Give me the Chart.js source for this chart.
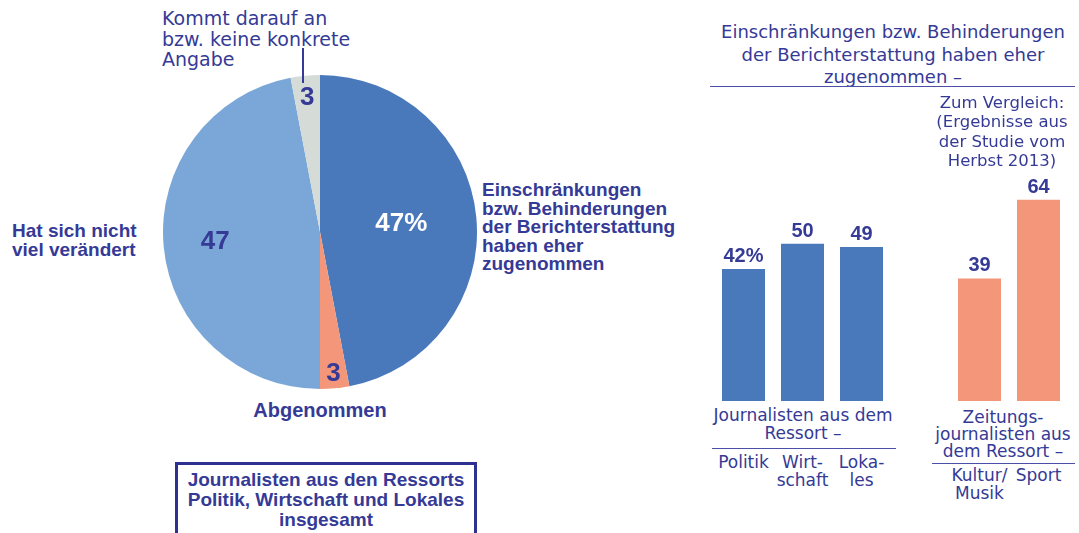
<!DOCTYPE html>
<html>
<head>
<meta charset="utf-8">
<script src="https://cdn.jsdelivr.net/npm/chart.js@4"></script>
<style>
  body { margin: 0; background: #fff; }
  #wrap { position: relative; width: 1079px; height: 533px; overflow: hidden; color: #353a96; }
  .t { position: absolute; font-family: "DejaVu Sans", sans-serif; white-space: nowrap; }
  .b { position: absolute; font-family: "Liberation Sans", Arial, sans-serif; font-weight: bold; white-space: nowrap; }
  .c { text-align: center; }
  .hr { position: absolute; height: 1.5px; background: #4b4fa8; }
  canvas { position: absolute; }
</style>
</head>
<body>
<div id="wrap">
  <canvas id="pie" width="314" height="314" style="left:163px;top:75px"></canvas>
  <canvas id="bars" width="354" height="251" style="left:714px;top:150px"></canvas>

  <div class="t" style="left:162px;top:8px;font-size:19px;line-height:20.5px">Kommt darauf an<br>bzw. keine konkrete<br>Angabe</div>
  <div style="position:absolute;left:302px;top:48px;width:1.5px;height:35px;background:#353a96"></div>

  <div class="b" style="left:12px;top:221px;font-size:19px;line-height:19px">Hat sich nicht<br>viel verändert</div>
  <div class="b" style="left:482px;top:181px;font-size:19px;line-height:18.6px">Einschränkungen<br>bzw. Behinderungen<br>der Berichterstattung<br>haben eher<br>zugenommen</div>
  <div class="b c" style="left:220px;width:200px;top:400px;font-size:20px;line-height:20px">Abgenommen</div>

  <div style="position:absolute;left:175px;top:462px;width:296px;height:100px;border:3px solid #2e3192"></div>
  <div class="b c" style="left:176px;width:300px;top:470px;font-size:19px;line-height:20px">Journalisten aus den Ressorts<br>Politik, Wirtschaft und Lokales<br>insgesamt</div>

  <div class="t c" style="left:693px;width:400px;top:21px;font-size:18px;line-height:22.5px">Einschränkungen bzw. Behinderungen<br>der Berichterstattung haben eher<br>zugenommen –</div>
  <div class="hr" style="left:710px;width:365px;top:85.5px"></div>
  <div class="t c" style="left:902px;width:200px;top:93px;font-size:16.5px;line-height:19.3px">Zum Vergleich:<br>(Ergebnisse aus<br>der Studie vom<br>Herbst 2013)</div>

  <div class="t c" style="left:703px;width:200px;top:406px;font-size:17px;line-height:18.4px">Journalisten aus dem<br>Ressort –</div>
  <div class="hr" style="left:712px;width:184px;top:447.5px"></div>
  <div class="t c" style="left:903px;width:200px;top:409px;font-size:17px;line-height:17px">Zeitungs-<br>journalisten aus<br>dem Ressort –</div>
  <div class="hr" style="left:932px;width:143px;top:462.5px"></div>
</div>

<script>
const navy = '#353a96';

const pieLabels = ['Einschränkungen bzw. Behinderungen der Berichterstattung haben eher zugenommen', 'Abgenommen', 'Hat sich nicht viel verändert', 'Kommt darauf an bzw. keine konkrete Angabe'];
const pieValues = [47, 3, 47, 3];
const pieValueTexts = ['47%', '3', '47', '3'];
const pieColors = ['#4a79bb', '#f4967a', '#7ba7d8', '#d5dcd8'];

const barCategories = ['Politik', 'Wirtschaft', 'Lokales', '', 'Kultur/Musik', 'Sport'];
const barTickLines = [['Politik'], ['Wirt-', 'schaft'], ['Loka-', 'les'], [], ['Kultur/', 'Musik'], ['Sport']];
const barValues = [42, 50, 49, null, 39, 64];
const barValueTexts = ['42%', '50', '49', '', '39', '64'];
const barColors = ['#4a79bb', '#4a79bb', '#4a79bb', '#4a79bb', '#f4967a', '#f4967a'];

// label distance from centre, as part of the radius
const pieLabelRadius = [0.52, 0.91, 0.67, 0.86];

const pieLabelPlugin = {
  id: 'pieLabels',
  afterDatasetsDraw(chart) {
    const ctx = chart.ctx;
    chart.getDatasetMeta(0).data.forEach((arc, i) => {
      const a = (arc.startAngle + arc.endAngle) / 2;
      const r = arc.outerRadius * pieLabelRadius[i];
      ctx.save();
      ctx.font = 'bold 26px "Liberation Sans", Arial, sans-serif';
      ctx.fillStyle = i === 0 ? '#ffffff' : navy;
      ctx.textAlign = 'center';
      ctx.textBaseline = 'middle';
      ctx.fillText(pieValueTexts[i], arc.x + Math.cos(a) * r, arc.y + Math.sin(a) * r);
      ctx.restore();
    });
  }
};

const barLabelPlugin = {
  id: 'barLabels',
  afterDatasetsDraw(chart) {
    const ctx = chart.ctx;
    chart.getDatasetMeta(0).data.forEach((bar, i) => {
      if (barValues[i] == null) return;
      ctx.save();
      ctx.font = 'bold 20px "Liberation Sans", Arial, sans-serif';
      ctx.fillStyle = navy;
      ctx.textAlign = 'center';
      ctx.textBaseline = 'alphabetic';
      ctx.fillText(barValueTexts[i], bar.x, bar.y - 7);
      ctx.restore();
    });
  }
};

new Chart(document.getElementById('pie'), {
  type: 'pie',
  data: {
    labels: pieLabels,
    datasets: [{ data: pieValues, backgroundColor: pieColors, borderWidth: 0 }]
  },
  options: {
    responsive: false,
    animation: false,
    devicePixelRatio: 1,
    layout: { padding: 0 },
    plugins: { legend: { display: false }, tooltip: { enabled: false } }
  },
  plugins: [pieLabelPlugin]
});

const barChart = new Chart(document.getElementById('bars'), {
  type: 'bar',
  data: {
    labels: barCategories,
    datasets: [{
      data: barValues,
      backgroundColor: barColors,
      borderWidth: 0,
      categoryPercentage: 1,
      barPercentage: 43 / 59
    }]
  },
  options: {
    responsive: false,
    animation: false,
    devicePixelRatio: 1,
    layout: { padding: { top: 31, left: 0, right: 0, bottom: 0 } },
    scales: {
      x: { display: false },
      y: { display: false, min: 0, max: 70 }
    },
    plugins: { legend: { display: false }, tooltip: { enabled: false } }
  },
  plugins: [barLabelPlugin]
});

// category labels under the bars, placed from the x scale
const wrap = document.getElementById('wrap');
barTickLines.forEach((lines, i) => {
  if (!lines.length) return;
  const x = 714 + barChart.scales.x.getPixelForValue(i);
  const d = document.createElement('div');
  d.className = 't c';
  d.style.cssText = 'left:' + (x - 60) + 'px;width:120px;top:' + (i < 3 ? 454 : 467) + 'px;font-size:17px;line-height:17.5px';
  d.innerHTML = lines.join('<br>');
  wrap.appendChild(d);
});
</script>
</body>
</html>
